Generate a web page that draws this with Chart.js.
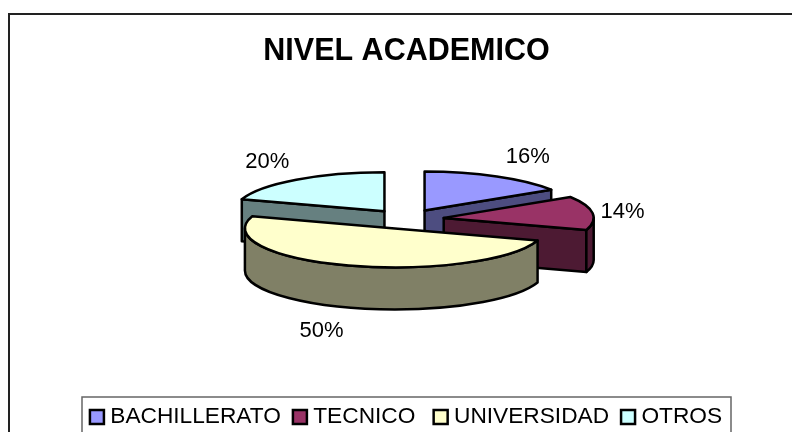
<!DOCTYPE html>
<html>
<head>
<meta charset="utf-8">
<style>html,body{margin:0;padding:0;background:#fff}#wrap{width:792px;height:432px;overflow:hidden}canvas{display:block}</style>
<script src="https://cdn.jsdelivr.net/npm/chart.js@4/dist/chart.umd.min.js"></script>
</head>
<body>
<div id="wrap"><canvas id="c" width="792" height="432"></canvas></div>
<script>
const titleText = 'NIVEL ACADEMICO';
const categories = ['BACHILLERATO', 'TECNICO', 'UNIVERSIDAD', 'OTROS'];
const legendTexts = ['BACHILLERATO', 'TECNICO ', 'UNIVERSIDAD', 'OTROS'];
const values = [16, 14, 50, 20];
const topColors = ['#9999FF', '#993366', '#FFFFCC', '#CCFFFF'];
const wallColors = ['#4D4D80', '#4D1A33', '#808066', '#668080'];
const drawOrder = [0, 3, 1, 2];
const labelShift = [[31, -19], [30, -1], [-27, 23], [-29, -18]];

const FONT = '"Liberation Sans", Arial, sans-serif';
const TILT = 0.26, DEPTH = 42;

const pie3d = {
  id: 'pie3d',
  afterLayout(chart) {
    chart.legend.left += 4;
  },
  beforeDraw(chart) {
    const ctx = chart.ctx;
    ctx.save();
    ctx.fillStyle = '#fff';
    ctx.fillRect(0, 0, chart.width, chart.height);
    ctx.strokeStyle = '#222';
    ctx.lineWidth = 2;
    ctx.beginPath();
    ctx.moveTo(9, chart.height + 2);
    ctx.lineTo(9, 14);
    ctx.lineTo(chart.width + 2, 14);
    ctx.stroke();
    ctx.strokeStyle = '#666';
    ctx.lineWidth = 1.5;
    ctx.beginPath();
    ctx.moveTo(82, chart.height + 2);
    ctx.lineTo(82, 397);
    ctx.lineTo(731, 397);
    ctx.lineTo(731, chart.height + 2);
    ctx.stroke();
    ctx.restore();
  },
  beforeDatasetDraw(chart, args) {
    const ctx = chart.ctx;
    const arcs = chart.getDatasetMeta(args.index).data;
    const total = values.reduce((a, b) => a + b, 0);
    ctx.save();
    ctx.lineJoin = 'round';
    ctx.strokeStyle = '#000';
    ctx.lineWidth = 2.5;
    const paint = (fill) => { ctx.fillStyle = fill; ctx.fill(); ctx.stroke(); };
    const geom = (el) => {
      const mid = (el.startAngle + el.endAngle) / 2;
      const off = el.options.offset / 4;
      return {
        mid, s: el.startAngle, e: el.endAngle,
        a: el.outerRadius, b: el.outerRadius * TILT,
        cx: el.x + Math.cos(mid) * off,
        cy: el.y + Math.sin(mid) * off * TILT
      };
    };
    const radial = (g, t) => {
      const px = g.cx + g.a * Math.cos(t), py = g.cy + g.b * Math.sin(t);
      ctx.beginPath();
      ctx.moveTo(g.cx, g.cy);
      ctx.lineTo(px, py);
      ctx.lineTo(px, py + DEPTH);
      ctx.lineTo(g.cx, g.cy + DEPTH);
      ctx.closePath();
    };
    drawOrder.forEach((i) => {
      const el = arcs[i], g = geom(el);
      if (Math.cos(g.s) < -1e-6) { radial(g, g.s); paint(wallColors[i]); }
      if (Math.cos(g.e) > 1e-6) { radial(g, g.e); paint(wallColors[i]); }
      const t0 = Math.max(g.s, 0), t1 = Math.min(g.e, Math.PI);
      if (t1 > t0) {
        ctx.beginPath();
        ctx.ellipse(g.cx, g.cy, g.a, g.b, 0, t0, t1);
        ctx.ellipse(g.cx, g.cy + DEPTH, g.a, g.b, 0, t1, t0, true);
        ctx.closePath();
        paint(wallColors[i]);
      }
      ctx.beginPath();
      ctx.moveTo(g.cx, g.cy);
      ctx.ellipse(g.cx, g.cy, g.a, g.b, 0, g.s, g.e);
      ctx.closePath();
      paint(topColors[i]);
    });
    ctx.fillStyle = '#000';
    ctx.font = '22px ' + FONT;
    ctx.textAlign = 'center';
    ctx.textBaseline = 'middle';
    arcs.forEach((el, i) => {
      const g = geom(el);
      const x = g.cx + g.a * Math.cos(g.mid) + labelShift[i][0];
      const front = Math.sin(g.mid) > 0.5 ? DEPTH : 0;
      const y = g.cy + g.b * Math.sin(g.mid) + front + labelShift[i][1];
      ctx.fillText(Math.round(values[i] / total * 100) + '%', x, y);
    });
    ctx.restore();
    return false;
  }
};

new Chart(document.getElementById('c'), {
  type: 'pie',
  data: {
    labels: categories,
    datasets: [{
      data: values,
      backgroundColor: topColors,
      borderColor: '#000',
      borderWidth: 2,
      offset: 150,
      radius: 150
    }]
  },
  plugins: [pie3d],
  options: {
    responsive: false,
    animation: false,
    events: [],
    layout: { padding: { left: 21, right: 0, top: 0, bottom: -6.35 } },
    plugins: {
      tooltip: { enabled: false },
      title: {
        display: true,
        text: titleText,
        color: '#000',
        font: { family: FONT, size: 30.5, weight: 'bold', lineHeight: 1.15 },
        padding: { top: 34, bottom: -19.5 }
      },
      legend: {
        display: true,
        position: 'bottom',
        labels: {
          color: '#000',
          font: { family: FONT, size: 22.7 },
          usePointStyle: true,
          boxWidth: 4,
          boxHeight: 14,
          padding: 17,
          generateLabels(chart) {
            return legendTexts.map((name, i) => ({
              text: name,
              fillStyle: topColors[i],
              strokeStyle: '#000',
              lineWidth: 2.5,
              pointStyle: 'rect',
              index: i
            }));
          }
        }
      }
    }
  }
});
</script>
</body>
</html>
